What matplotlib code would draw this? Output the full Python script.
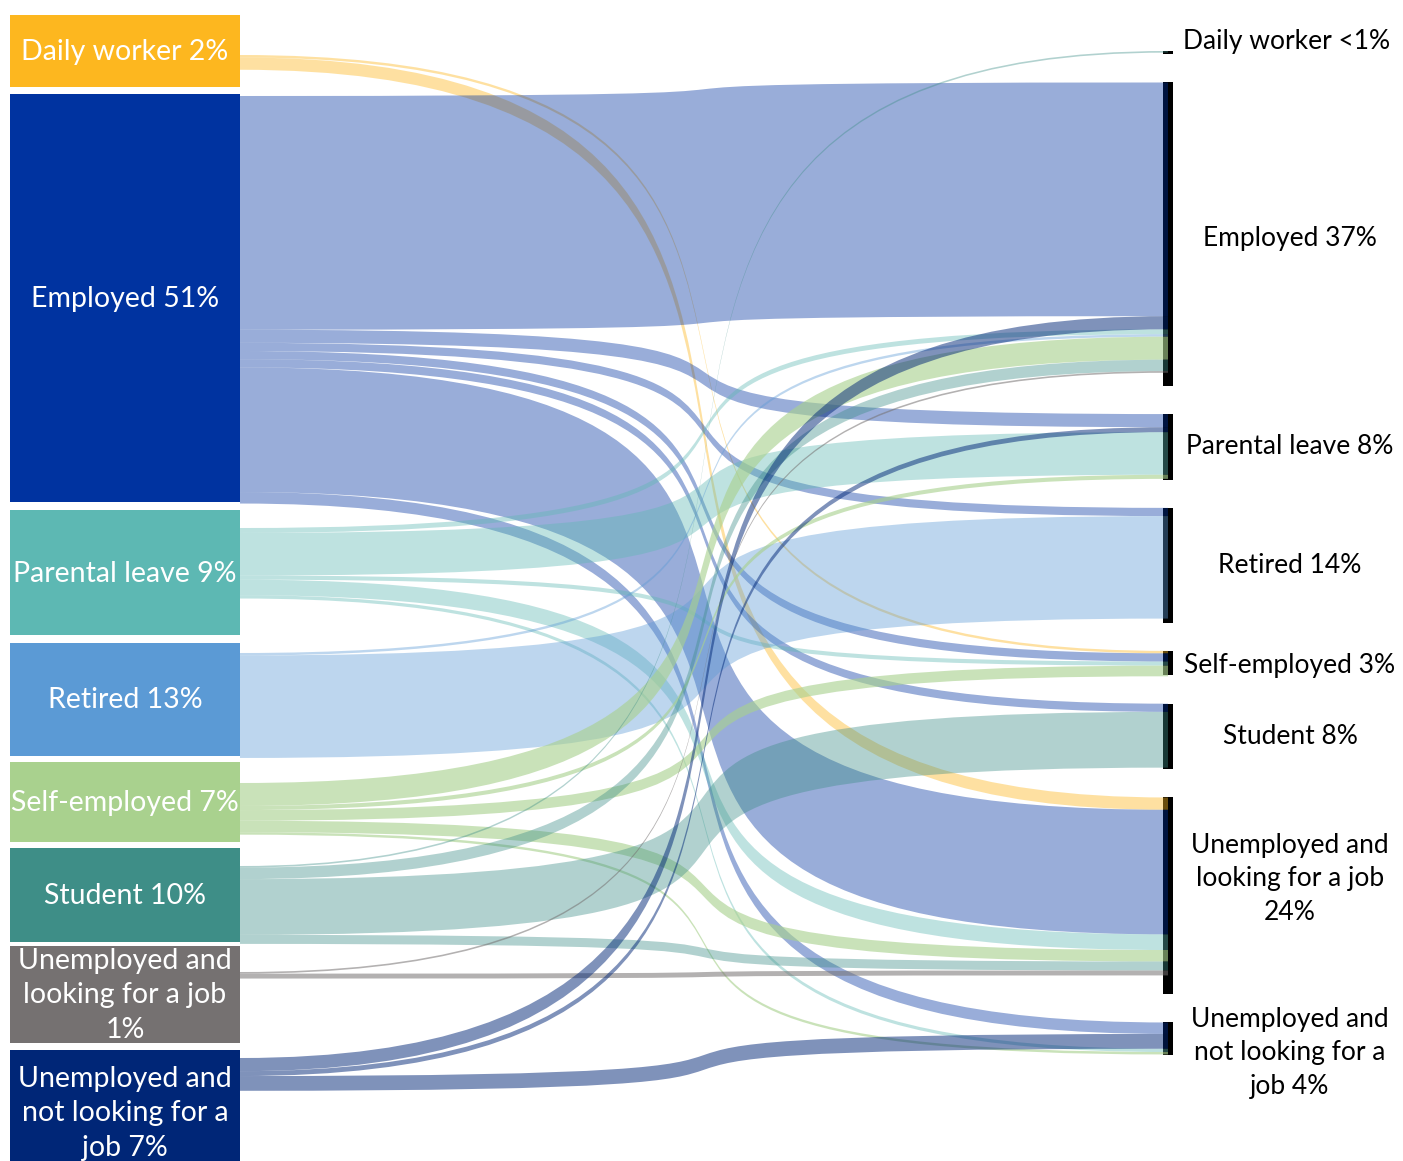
import matplotlib.pyplot as plt
from matplotlib.path import Path
from matplotlib.patches import PathPatch, Rectangle

plt.rcParams['font.family'] = ['Lato', 'DejaVu Sans']

# status categories (same order on both sides)
statuses = ["Daily worker", "Employed", "Parental leave", "Retired",
            "Self-employed", "Student", "Unemployed and looking for a job",
            "Unemployed and not looking for a job"]
DW, EMP, PAR, RET, SELF, STU, ULK, UNL = range(8)

left_labels = ["Daily worker 2%", "Employed 51%", "Parental leave 9%", "Retired 13%",
               "Self-employed 7%", "Student 10%",
               "Unemployed and\nlooking for a job\n1%",
               "Unemployed and\nnot looking for a\njob 7%"]
right_labels = ["Daily worker <1%", "Employed 37%", "Parental leave 8%", "Retired 14%",
                "Self-employed 3%", "Student 8%",
                "Unemployed and\nlooking for a job\n24%",
                "Unemployed and\nnot looking for a\njob 4%"]

# share of respondents in each status afterwards (%)
right_share = [0.4, 37, 8, 14, 3, 8, 24, 4]

# transitions: source status -> later status, % of respondents
flow_src = [DW, DW,
            EMP, EMP, EMP, EMP, EMP, EMP, EMP,
            PAR, PAR, PAR, PAR, PAR,
            RET, RET,
            SELF, SELF, SELF, SELF, SELF,
            STU, STU, STU, STU,
            ULK, ULK,
            UNL, UNL, UNL]
flow_dst = [SELF, ULK,
            EMP, PAR, RET, SELF, STU, ULK, UNL,
            EMP, PAR, SELF, ULK, UNL,
            EMP, RET,
            EMP, PAR, SELF, ULK, UNL,
            DW, EMP, STU, ULK,
            EMP, ULK,
            EMP, PAR, UNL]
flow_val = [0.3, 1.5,
            28.5, 1.6, 1.0, 1.0, 1.0, 15.2, 1.4,
            0.6, 5.2, 0.5, 1.9, 0.4,
            0.3, 12.5,
            2.8, 0.5, 1.3, 1.4, 0.3,
            0.2, 1.4, 6.8, 1.1,
            0.2, 0.6,
            1.6, 0.6, 1.8]

node_colors = ["#FDB71F", "#0033A0", "#5DB8B3", "#5B9AD5",
               "#A9D18E", "#3E8E87", "#757171", "#002677"]
flow_alpha = [0.42, 0.4, 0.4, 0.4, 0.62, 0.4, 0.55, 0.5]

# layout (pixel units)
scale = 8.2                      # px per percent
x_left, x_right = 240, 1168
box_x0 = 10
box_top = [15, 94, 510, 643, 762, 848, 946, 1050]
box_bot = [87, 502, 635, 756, 842, 942, 1043, 1175]
flow_start = [55, 96, 528, 653, 783, 866, 972, 1058]
right_top0, right_gap = 51, 28.2
bar_w = 10
bend = 340                       # how far the control points reach past the middle
right_order = [DW, EMP, UNL, PAR, RET, SELF, STU, ULK]
right_label_dy = [0, 4, 0, 0, 2, 0, -17, 14]

fig = plt.figure(figsize=(14.03, 11.61), dpi=100)
ax = fig.add_axes([0, 0, 1, 1])
ax.set_xlim(0, 1403)
ax.set_ylim(1161, 0)
ax.axis("off")

# right node positions
right_top = []
y = right_top0
for s in right_share:
    right_top.append(y)
    y += s * scale + right_gap

# left boxes
for i in range(8):
    ax.add_patch(Rectangle((box_x0, box_top[i]), x_left - box_x0, box_bot[i] - box_top[i],
                           facecolor=node_colors[i], edgecolor="none", zorder=1))
    ax.text((box_x0 + x_left) / 2, (box_top[i] + box_bot[i]) / 2 + 1, left_labels[i],
            color="white", fontsize=20.5, ha="center", va="center",
            linespacing=1.4, zorder=5)

# right bars
for i in range(8):
    h = max(right_share[i] * scale, 3)
    ax.add_patch(Rectangle((x_right - 5, right_top[i]), bar_w, h,
                           facecolor="black", edgecolor="none", zorder=1))
    cy = right_top[i] + h / 2 + right_label_dy[i]
    if i == DW:
        ax.text(x_right + 15, right_top[i] - 10, right_labels[i], fontsize=19,
                ha="left", va="center", color="black")
    else:
        ax.text(1290, cy, right_labels[i], fontsize=19, ha="center", va="center",
                color="black", linespacing=1.44)

# stacked offsets
left_off = list(flow_start)
right_off = list(right_top)
y0s, y1s = {}, {}
for k in sorted(range(len(flow_val)), key=lambda k: (flow_src[k], flow_dst[k])):
    y0s[k] = left_off[flow_src[k]]
    left_off[flow_src[k]] += flow_val[k] * scale
for k in sorted(range(len(flow_val)), key=lambda k: (flow_dst[k], right_order.index(flow_src[k]))):
    y1s[k] = right_off[flow_dst[k]]
    right_off[flow_dst[k]] += flow_val[k] * scale

cx = (x_left + x_right) / 2
c1, c2 = cx + bend, cx - bend
for k in range(len(flow_val)):
    w = flow_val[k] * scale
    a, b = y0s[k], y1s[k]
    verts = [(x_left, a), (c1, a), (c2, b), (x_right, b),
             (x_right, b + w), (c2, b + w), (c1, a + w), (x_left, a + w), (x_left, a)]
    codes = [Path.MOVETO, Path.CURVE4, Path.CURVE4, Path.CURVE4,
             Path.LINETO, Path.CURVE4, Path.CURVE4, Path.CURVE4, Path.CLOSEPOLY]
    s = flow_src[k]
    ax.add_patch(PathPatch(Path(verts, codes), facecolor=node_colors[s],
                           alpha=flow_alpha[s], edgecolor="none", zorder=2))

fig.savefig("out.png", dpi=100)
